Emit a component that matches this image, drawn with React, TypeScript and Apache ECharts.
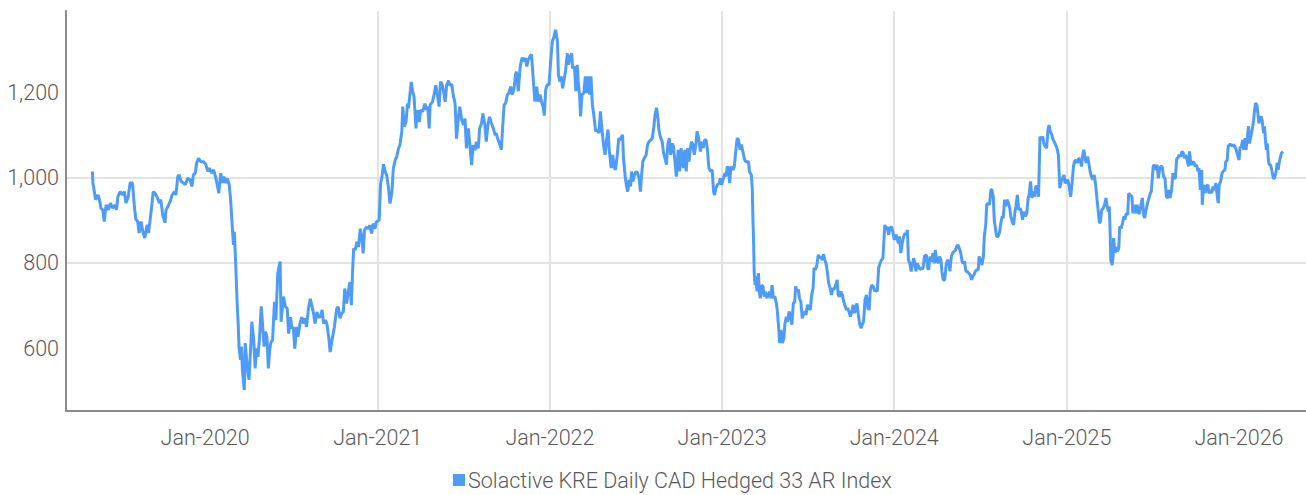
import React, { useEffect, useRef } from "react";
import * as echarts from "echarts";

const SERIES_NAME = "Solactive KRE Daily CAD Hedged 33 AR Index";

const yTicks = [600, 800, 1000, 1200];
const xTicks = ["2020-01-01", "2021-01-01", "2022-01-01", "2023-01-01", "2024-01-01", "2025-01-01", "2026-01-01"];
const xMinDate = "2019-03-12";
const xMaxDate = "2026-05-23";

const dates2019 = ["2019-05-07","2019-05-08","2019-05-14","2019-05-19","2019-05-22","2019-05-25","2019-05-29","2019-06-01","2019-06-05","2019-06-10","2019-06-14","2019-06-19","2019-06-24","2019-06-27","2019-06-30","2019-07-05","2019-07-10","2019-07-14","2019-07-17","2019-07-22","2019-07-26","2019-07-31","2019-08-04","2019-08-07","2019-08-11","2019-08-14","2019-08-18","2019-08-22","2019-08-26","2019-08-31","2019-09-03","2019-09-08","2019-09-13","2019-09-17","2019-09-22","2019-09-26","2019-09-29","2019-10-03","2019-10-08","2019-10-10","2019-10-14","2019-10-19","2019-10-23","2019-10-28","2019-10-31","2019-11-04","2019-11-07","2019-11-11","2019-11-16","2019-11-20","2019-11-25","2019-11-30","2019-12-04","2019-12-07","2019-12-11","2019-12-14","2019-12-18","2019-12-23","2019-12-28"];
const values2019 = [1014,987,948,959,948,928,924,897,936,924,940,928,936,924,955,967,959,967,940,955,988,987,932,902,897,870,897,873,858,889,870,916,967,963,952,940,948,912,894,924,932,944,959,967,959,1002,1006,991,987,983,998,995,979,1006,1010,1034,1045,1037,1037];

const dates2020 = ["2020-01-02","2020-01-07","2020-01-10","2020-01-15","2020-01-19","2020-01-22","2020-01-26","2020-01-30","2020-02-03","2020-02-07","2020-02-10","2020-02-14","2020-02-17","2020-02-21","2020-02-24","2020-02-28","2020-03-01","2020-03-03","2020-03-06","2020-03-09","2020-03-11","2020-03-13","2020-03-16","2020-03-18","2020-03-20","2020-03-24","2020-03-26","2020-03-29","2020-04-01","2020-04-03","2020-04-07","2020-04-09","2020-04-13","2020-04-16","2020-04-19","2020-04-22","2020-04-25","2020-04-29","2020-05-02","2020-05-05","2020-05-08","2020-05-11","2020-05-14","2020-05-17","2020-05-19","2020-05-23","2020-05-27","2020-05-30","2020-06-03","2020-06-08","2020-06-10","2020-06-15","2020-06-19","2020-06-23","2020-06-26","2020-06-30","2020-07-03","2020-07-06","2020-07-09","2020-07-13","2020-07-16","2020-07-20","2020-07-24","2020-07-27","2020-07-31","2020-08-03","2020-08-07","2020-08-11","2020-08-14","2020-08-18","2020-08-21","2020-08-25","2020-08-28","2020-09-01","2020-09-05","2020-09-08","2020-09-12","2020-09-15","2020-09-19","2020-09-22","2020-09-26","2020-10-01","2020-10-06","2020-10-09","2020-10-13","2020-10-16","2020-10-20","2020-10-23","2020-10-27","2020-10-30","2020-11-03","2020-11-06","2020-11-09","2020-11-11","2020-11-14","2020-11-18","2020-11-21","2020-11-25","2020-11-28","2020-12-01","2020-12-04","2020-12-08","2020-12-12","2020-12-15","2020-12-19","2020-12-22","2020-12-26","2020-12-29"];
const values2020 = [1032,1014,1022,1010,1018,1006,987,963,1010,987,1002,987,998,983,948,877,842,873,791,702,659,600,573,604,549,502,612,573,541,526,612,662,620,553,600,580,620,698,651,604,639,627,553,596,612,620,709,666,776,803,662,721,698,693,634,673,646,650,599,650,627,658,673,658,670,650,693,716,701,681,658,685,673,673,690,658,666,658,627,591,619,650,693,697,670,681,685,740,705,728,755,701,791,834,830,849,837,880,861,822,877,884,880,888,869,892,880,896];

const dates2021 = ["2021-01-04","2021-01-07","2021-01-10","2021-01-13","2021-01-17","2021-01-20","2021-01-24","2021-01-27","2021-01-31","2021-02-03","2021-02-07","2021-02-10","2021-02-14","2021-02-17","2021-02-21","2021-02-23","2021-02-26","2021-03-02","2021-03-05","2021-03-07","2021-03-10","2021-03-13","2021-03-16","2021-03-19","2021-03-23","2021-03-26","2021-03-30","2021-04-02","2021-04-06","2021-04-11","2021-04-14","2021-04-17","2021-04-20","2021-04-22","2021-04-27","2021-05-01","2021-05-04","2021-05-08","2021-05-11","2021-05-14","2021-05-17","2021-05-20","2021-05-24","2021-05-27","2021-05-31","2021-06-03","2021-06-07","2021-06-10","2021-06-14","2021-06-17","2021-06-21","2021-06-24","2021-06-28","2021-07-02","2021-07-05","2021-07-08","2021-07-12","2021-07-15","2021-07-19","2021-07-22","2021-07-26","2021-07-29","2021-08-02","2021-08-05","2021-08-09","2021-08-12","2021-08-16","2021-08-19","2021-08-23","2021-08-26","2021-08-30","2021-09-03","2021-09-07","2021-09-09","2021-09-13","2021-09-17","2021-09-20","2021-09-23","2021-09-26","2021-09-29","2021-10-03","2021-10-06","2021-10-10","2021-10-13","2021-10-17","2021-10-20","2021-10-22","2021-10-26","2021-10-30","2021-11-03","2021-11-06","2021-11-10","2021-11-13","2021-11-16","2021-11-20","2021-11-23","2021-11-27","2021-11-30","2021-12-04","2021-12-07","2021-12-11","2021-12-14","2021-12-18","2021-12-20","2021-12-23","2021-12-26","2021-12-30"];
const values2021 = [900,986,1002,1031,1013,1005,974,939,966,1021,1041,1048,1068,1076,1107,1166,1119,1130,1173,1162,1193,1224,1201,1189,1115,1158,1130,1158,1154,1173,1158,1166,1115,1170,1177,1197,1216,1189,1166,1224,1220,1205,1177,1216,1227,1216,1218,1193,1173,1091,1142,1166,1134,1123,1138,1068,1115,1080,1029,1076,1064,1084,1068,1115,1127,1150,1123,1084,1127,1142,1127,1115,1099,1104,1088,1077,1065,1123,1170,1174,1194,1198,1213,1194,1209,1241,1248,1202,1260,1281,1272,1280,1260,1276,1284,1288,1225,1178,1213,1178,1194,1178,1163,1145,1205,1217,1217];

const dates2022 = ["2022-01-02","2022-01-06","2022-01-09","2022-01-13","2022-01-17","2022-01-19","2022-01-22","2022-01-25","2022-01-28","2022-01-31","2022-02-03","2022-02-07","2022-02-09","2022-02-12","2022-02-16","2022-02-18","2022-02-22","2022-02-25","2022-02-28","2022-03-02","2022-03-05","2022-03-07","2022-03-10","2022-03-14","2022-03-17","2022-03-19","2022-03-23","2022-03-26","2022-03-29","2022-04-01","2022-04-04","2022-04-08","2022-04-11","2022-04-15","2022-04-18","2022-04-22","2022-04-25","2022-04-28","2022-05-01","2022-05-04","2022-05-07","2022-05-11","2022-05-14","2022-05-18","2022-05-20","2022-05-23","2022-05-27","2022-05-30","2022-06-04","2022-06-06","2022-06-10","2022-06-12","2022-06-15","2022-06-18","2022-06-21","2022-06-23","2022-06-26","2022-06-29","2022-07-03","2022-07-06","2022-07-09","2022-07-12","2022-07-14","2022-07-17","2022-07-20","2022-07-24","2022-07-27","2022-07-30","2022-08-03","2022-08-06","2022-08-09","2022-08-12","2022-08-15","2022-08-18","2022-08-20","2022-08-23","2022-08-27","2022-08-30","2022-09-03","2022-09-05","2022-09-08","2022-09-11","2022-09-14","2022-09-17","2022-09-20","2022-09-24","2022-09-26","2022-09-30","2022-10-03","2022-10-06","2022-10-09","2022-10-11","2022-10-14","2022-10-17","2022-10-20","2022-10-23","2022-10-25","2022-10-28","2022-10-31","2022-11-03","2022-11-06","2022-11-09","2022-11-13","2022-11-16","2022-11-19","2022-11-22","2022-11-25","2022-11-28","2022-12-01","2022-12-04","2022-12-08","2022-12-11","2022-12-14","2022-12-16","2022-12-19","2022-12-22","2022-12-26","2022-12-28","2022-12-31"];
const values2022 = [1264,1319,1327,1346,1319,1241,1225,1237,1209,1229,1248,1291,1264,1280,1291,1256,1260,1202,1264,1225,1190,1143,1194,1198,1237,1198,1237,1194,1237,1170,1147,1108,1112,1104,1155,1104,1073,1053,1088,1112,1061,1022,1053,1022,1018,1045,1092,1088,1100,1045,998,983,967,995,979,1014,991,1006,1014,1010,998,967,1002,1037,1045,1053,1077,1084,1088,1092,1116,1147,1163,1139,1112,1096,1084,1057,1041,1030,1077,1092,1053,1080,1073,1026,1002,1065,1014,1069,1037,1022,1065,1014,1069,1037,1061,1084,1077,1053,1073,1108,1088,1061,1084,1069,1088,1088,1065,1022,1014,1018,967,959,975,983,987,998,983];

const dates2023 = ["2023-01-03","2023-01-07","2023-01-09","2023-01-12","2023-01-15","2023-01-17","2023-01-20","2023-01-24","2023-01-27","2023-01-30","2023-02-02","2023-02-05","2023-02-08","2023-02-11","2023-02-14","2023-02-18","2023-02-21","2023-02-26","2023-02-28","2023-03-04","2023-03-06","2023-03-07","2023-03-09","2023-03-10","2023-03-12","2023-03-14","2023-03-16","2023-03-19","2023-03-21","2023-03-23","2023-03-26","2023-03-29","2023-03-31","2023-04-03","2023-04-06","2023-04-09","2023-04-12","2023-04-14","2023-04-17","2023-04-20","2023-04-23","2023-04-26","2023-04-28","2023-05-01","2023-05-03","2023-05-06","2023-05-09","2023-05-12","2023-05-14","2023-05-17","2023-05-20","2023-05-23","2023-05-26","2023-05-29","2023-06-01","2023-06-04","2023-06-06","2023-06-09","2023-06-12","2023-06-14","2023-06-17","2023-06-20","2023-06-23","2023-06-26","2023-06-28","2023-07-01","2023-07-04","2023-07-07","2023-07-10","2023-07-13","2023-07-15","2023-07-18","2023-07-21","2023-07-24","2023-07-27","2023-07-29","2023-08-01","2023-08-04","2023-08-07","2023-08-10","2023-08-12","2023-08-15","2023-08-18","2023-08-21","2023-08-24","2023-08-26","2023-08-29","2023-09-02","2023-09-04","2023-09-07","2023-09-10","2023-09-13","2023-09-15","2023-09-19","2023-09-22","2023-09-24","2023-09-27","2023-09-30","2023-10-03","2023-10-06","2023-10-09","2023-10-11","2023-10-14","2023-10-17","2023-10-20","2023-10-23","2023-10-25","2023-10-28","2023-10-31","2023-11-03","2023-11-06","2023-11-09","2023-11-11","2023-11-14","2023-11-18","2023-11-21","2023-11-23","2023-11-26","2023-11-29","2023-12-02","2023-12-05","2023-12-08","2023-12-10","2023-12-12","2023-12-15","2023-12-17","2023-12-20","2023-12-23","2023-12-26","2023-12-29"];
const values2023 = [995,1010,1002,1026,1018,987,1026,1018,1026,1061,1092,1088,1065,1077,1061,1041,1037,1037,1014,1006,975,920,842,780,748,768,733,776,733,717,748,744,721,733,717,725,733,717,748,717,721,705,690,647,612,643,612,623,655,674,662,686,678,655,705,709,745,733,737,717,709,670,682,686,678,702,694,690,725,741,788,784,795,819,811,815,807,820,807,795,780,752,741,725,741,737,745,760,725,721,733,725,713,698,690,694,686,674,686,702,682,694,705,678,655,647,655,662,713,725,694,690,733,748,744,733,737,733,788,799,807,811,850,889,877,885,866,881,885,873];

const dates2024 = ["2024-01-01","2024-01-05","2024-01-10","2024-01-12","2024-01-15","2024-01-18","2024-01-21","2024-01-24","2024-01-26","2024-01-29","2024-01-31","2024-02-03","2024-02-06","2024-02-09","2024-02-11","2024-02-14","2024-02-16","2024-02-19","2024-02-22","2024-02-25","2024-02-28","2024-03-02","2024-03-05","2024-03-09","2024-03-12","2024-03-14","2024-03-17","2024-03-20","2024-03-23","2024-03-26","2024-03-28","2024-03-31","2024-04-03","2024-04-06","2024-04-09","2024-04-11","2024-04-14","2024-04-17","2024-04-20","2024-04-23","2024-04-26","2024-04-28","2024-05-01","2024-05-04","2024-05-07","2024-05-10","2024-05-12","2024-05-15","2024-05-18","2024-05-21","2024-05-24","2024-05-26","2024-05-29","2024-06-01","2024-06-04","2024-06-07","2024-06-10","2024-06-13","2024-06-15","2024-06-18","2024-06-21","2024-06-24","2024-06-27","2024-06-29","2024-07-02","2024-07-05","2024-07-08","2024-07-10","2024-07-13","2024-07-15","2024-07-18","2024-07-21","2024-07-24","2024-07-26","2024-07-29","2024-07-31","2024-08-03","2024-08-05","2024-08-08","2024-08-11","2024-08-14","2024-08-17","2024-08-19","2024-08-22","2024-08-24","2024-08-27","2024-08-29","2024-09-02","2024-09-04","2024-09-07","2024-09-10","2024-09-13","2024-09-15","2024-09-18","2024-09-21","2024-09-24","2024-09-27","2024-09-29","2024-10-02","2024-10-05","2024-10-08","2024-10-11","2024-10-13","2024-10-16","2024-10-19","2024-10-22","2024-10-25","2024-10-27","2024-10-30","2024-11-02","2024-11-05","2024-11-08","2024-11-11","2024-11-13","2024-11-16","2024-11-19","2024-11-22","2024-11-24","2024-11-27","2024-11-30","2024-12-03","2024-12-05","2024-12-08","2024-12-11","2024-12-14","2024-12-16","2024-12-17","2024-12-20","2024-12-23","2024-12-26","2024-12-28"];
const values2024 = [854,866,846,862,823,846,862,870,866,877,807,799,780,799,811,799,780,799,791,784,787,787,815,819,787,784,815,803,823,799,830,807,799,815,807,780,760,760,795,807,799,780,815,823,827,830,838,842,834,823,803,799,803,780,780,776,772,760,768,772,780,784,784,815,807,795,815,862,889,936,940,936,971,971,955,901,877,862,862,870,893,909,905,948,932,948,944,928,909,897,889,920,932,959,924,928,916,901,920,909,916,952,959,991,952,967,955,979,979,955,1096,1088,1096,1080,1073,1069,1112,1123,1108,1100,1088,1084,1077,1069,1053,1002,975,991,998,1006,987];

const dates2025 = ["2025-01-01","2025-01-03","2025-01-06","2025-01-09","2025-01-12","2025-01-15","2025-01-17","2025-01-20","2025-01-23","2025-01-26","2025-01-29","2025-02-01","2025-02-03","2025-02-06","2025-02-08","2025-02-11","2025-02-14","2025-02-17","2025-02-20","2025-02-22","2025-02-25","2025-02-28","2025-03-03","2025-03-06","2025-03-09","2025-03-11","2025-03-13","2025-03-16","2025-03-19","2025-03-22","2025-03-25","2025-03-27","2025-03-30","2025-04-01","2025-04-03","2025-04-04","2025-04-07","2025-04-09","2025-04-10","2025-04-13","2025-04-15","2025-04-18","2025-04-21","2025-04-23","2025-04-26","2025-04-29","2025-05-02","2025-05-04","2025-05-07","2025-05-10","2025-05-12","2025-05-15","2025-05-19","2025-05-21","2025-05-24","2025-05-27","2025-05-30","2025-06-02","2025-06-04","2025-06-07","2025-06-10","2025-06-13","2025-06-15","2025-06-18","2025-06-21","2025-06-24","2025-06-27","2025-06-29","2025-07-03","2025-07-05","2025-07-08","2025-07-11","2025-07-14","2025-07-17","2025-07-19","2025-07-22","2025-07-25","2025-07-28","2025-07-31","2025-08-03","2025-08-05","2025-08-08","2025-08-11","2025-08-14","2025-08-17","2025-08-19","2025-08-22","2025-08-24","2025-08-27","2025-08-30","2025-09-02","2025-09-05","2025-09-07","2025-09-10","2025-09-13","2025-09-16","2025-09-18","2025-09-21","2025-09-24","2025-09-27","2025-09-30","2025-10-03","2025-10-06","2025-10-08","2025-10-11","2025-10-14","2025-10-15","2025-10-18","2025-10-21","2025-10-24","2025-10-27","2025-10-29","2025-11-02","2025-11-04","2025-11-07","2025-11-10","2025-11-13","2025-11-16","2025-11-18","2025-11-20","2025-11-23","2025-11-26","2025-11-28","2025-12-02","2025-12-04","2025-12-07","2025-12-09","2025-12-12","2025-12-15","2025-12-17","2025-12-20","2025-12-23","2025-12-26","2025-12-29"];
const values2025 = [991,995,979,955,987,1026,1037,1041,1034,1045,1041,1026,1049,1065,1049,1034,1049,1030,1010,1002,995,1006,983,948,916,893,897,924,928,936,952,936,920,932,862,807,795,815,858,823,838,827,834,885,881,893,909,901,916,912,963,959,955,916,936,916,936,916,916,936,952,912,905,924,940,952,963,967,1026,1030,1018,1030,998,1022,1026,1026,1002,998,955,952,971,952,971,1010,998,998,1045,1045,1053,1049,1061,1057,1045,1053,1041,1026,1061,1030,1034,1037,1026,1030,1014,1022,971,1018,936,983,963,979,983,963,971,963,979,971,987,955,940,983,991,1010,1014,1018,1037,1041,1073,1077,1077,1073,1077,1073,1065,1053];

const dates2026 = ["2026-01-01","2026-01-03","2026-01-06","2026-01-09","2026-01-11","2026-01-14","2026-01-16","2026-01-19","2026-01-21","2026-01-23","2026-01-26","2026-01-29","2026-02-01","2026-02-03","2026-02-05","2026-02-08","2026-02-10","2026-02-12","2026-02-14","2026-02-17","2026-02-19","2026-02-22","2026-02-24","2026-02-26","2026-02-28","2026-03-02","2026-03-04","2026-03-06","2026-03-09","2026-03-12","2026-03-15","2026-03-17","2026-03-20","2026-03-23","2026-03-25","2026-03-27","2026-03-29","2026-04-01","2026-04-04"];
const values2026 = [1041,1069,1073,1088,1065,1092,1065,1096,1120,1080,1096,1112,1135,1159,1174,1170,1151,1127,1135,1143,1135,1104,1120,1088,1065,1080,1045,1030,1030,1014,998,998,1010,1034,1018,1034,1045,1057,1061];

const allDates = [...dates2019, ...dates2020, ...dates2021, ...dates2022, ...dates2023, ...dates2024, ...dates2025, ...dates2026];
const allValues = [...values2019, ...values2020, ...values2021, ...values2022, ...values2023, ...values2024, ...values2025, ...values2026];

const FONT = "Roboto, 'Liberation Sans', sans-serif";
const FONT_SIZE = 21.5;
const FONT_WEIGHT = 300;
const TEXT_COLOR = "#5a5a5a";
const LINE_COLOR = "#4f9bf8";
const GRID_COLOR = "#e3e3e3";
const AXIS_COLOR = "#8a8a8a";

const ts = (d: string) => Date.parse(d + "T00:00:00Z");

export default function App() {
  const ref = useRef<HTMLDivElement>(null);

  useEffect(() => {
    if (!ref.current) return;
    const chart = echarts.init(ref.current, undefined, { renderer: "svg" });
    const data = allDates.map((d, i) => [ts(d), allValues[i]]);
    const xTickValues = xTicks.map(ts);
    const labelStyle = { fontFamily: FONT, fontSize: FONT_SIZE, fontWeight: FONT_WEIGHT, color: TEXT_COLOR };
    chart.setOption({
      animation: false,
      textStyle: { fontFamily: FONT },
      grid: { left: 66, right: 0, top: 11, bottom: 84, containLabel: false },
      legend: {
        data: [SERIES_NAME],
        icon: "rect",
        itemWidth: 12,
        itemHeight: 12,
        itemGap: 0,
        left: 453,
        top: 469,
        padding: 0,
        textStyle: { ...labelStyle, padding: [0, 0, 0, -2] },
      },
      xAxis: {
        type: "value",
        min: ts(xMinDate),
        max: ts(xMaxDate),
        axisLine: { show: true, lineStyle: { color: AXIS_COLOR, width: 2 } },
        axisTick: { show: false, customValues: xTickValues },
        axisLabel: {
          ...labelStyle,
          customValues: xTickValues,
          formatter: (v: number) => "Jan-" + new Date(v).getUTCFullYear(),
          margin: 15,
        },
        splitLine: { show: true, showMinLine: false, showMaxLine: false, lineStyle: { color: GRID_COLOR, width: 2 } },
      },
      yAxis: {
        type: "value",
        min: 453,
        max: 1390,
        splitNumber: 5,
        axisLine: { show: true, lineStyle: { color: AXIS_COLOR, width: 2 } },
        axisTick: { show: false, customValues: yTicks },
        axisLabel: {
          ...labelStyle,
          customValues: yTicks,
          formatter: (v: number) => v.toLocaleString("en-US"),
          margin: 7,
        },
        splitLine: { show: true, showMinLine: false, showMaxLine: false, lineStyle: { color: GRID_COLOR, width: 2 } },
      },
      series: [
        {
          name: SERIES_NAME,
          type: "line",
          data,
          showSymbol: false,
          symbol: "none",
          sampling: "none",
          lineStyle: { color: LINE_COLOR, width: 3 },
          itemStyle: { color: LINE_COLOR },
        },
      ],
    });
    return () => chart.dispose();
  }, []);

  return <div ref={ref} style={{ position: "absolute", left: 0, top: 0, width: 1306, height: 495 }} />;
}
